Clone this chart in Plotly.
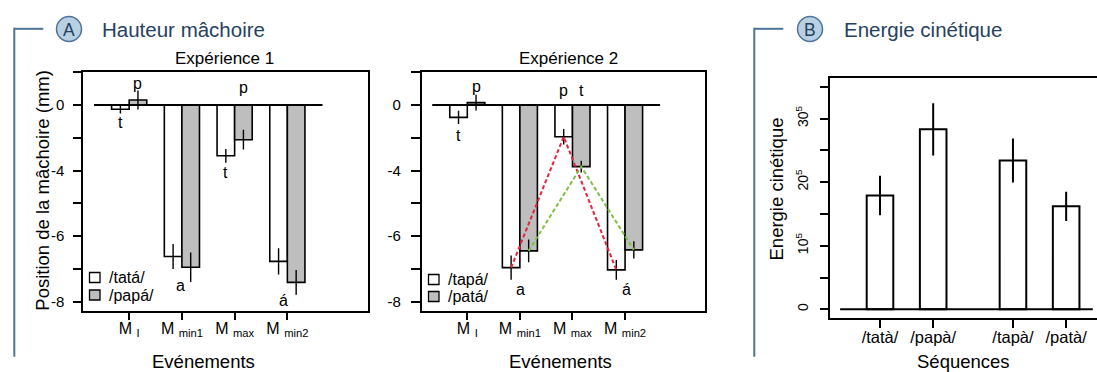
import plotly.graph_objects as go

W, H = 1097, 372
FONT = "Liberation Sans, Arial, Helvetica, sans-serif"

# ---------------- data ----------------
events = ["M <sub>I</sub>", "M <sub>min1</sub>", "M <sub>max</sub>", "M <sub>min2</sub>"]

exp1_names = ["/tatá/", "/papá/"]
exp1_tata = [-0.13, -4.62, -1.55, -4.77]
exp1_tata_err = [0.13, 0.38, 0.21, 0.40]
exp1_papa = [0.15, -4.95, -1.06, -5.41]
exp1_papa_err = [0.29, 0.45, 0.30, 0.38]

exp2_names = ["/tapá/", "/patá/"]
exp2_tapa = [-0.38, -4.96, -0.97, -5.03]
exp2_tapa_err = [0.20, 0.37, 0.24, 0.30]
exp2_pata = [0.07, -4.45, -1.88, -4.42]
exp2_pata_err = [0.24, 0.35, 0.18, 0.26]

jaw_tickvals = [0, -2, -4, -6]
jaw_ticktext = ["0", "-4", "-6", "-8"]
jaw_minor_ticks = [1, -1, -3, -5]

sequences = ["/tatà/", "/papà/", "/tapà/", "/patà/"]
energy = [17.9, 28.3, 23.4, 16.2]
energy_err = [3.1, 4.1, 3.45, 2.3]
energy_tickvals = [0, 10, 20, 30]
energy_ticktext = ["0", "10<sup>5</sup>", "20<sup>5</sup>", "30<sup>5</sup>"]
energy_minor_ticks = [5, 15, 25, 35]

# phoneme letters written on panel A: (text, event index, side offset, y)
exp1_letters = [("t", 0, -1, -0.55), ("p", 0, 1, 0.64), ("a", 1, -0.2, -5.52),
                ("t", 2, -1, -2.07), ("p", 2, 1, 0.52), ("á", 3, -0.45, -5.95)]
exp2_letters = [("t", 0, -1, -0.92), ("p", 0, 1, 0.55), ("a", 1, 0.1, -5.64),
                ("p", 2, -1, 0.43), ("t", 2, 1, 0.43), ("á", 3, 0.2, -5.64)]

WHITE = "#ffffff"
GREY = "#bebebe"
RED = "#e8233c"
GREEN = "#7cc142"
BLUE_LINE = "#4d7398"
BLUE_TEXT = "#26415f"
CIRCLE_FILL = "#b9d0e3"


def px(x):
    return x / W


def py(y):
    return 1 - y / H


grp = [i + 1 for i in range(len(events))]
half = 1 / 6
bw = 1 / 3

fig = go.Figure()


def add_bars(vals, errs, name, color, off, xa, ya):
    fig.add_trace(go.Bar(
        x=[g + off for g in grp], y=vals, width=bw, name=name,
        marker=dict(color=color, line=dict(color="black", width=1.6)),
        error_y=dict(type="data", array=errs, width=0, thickness=1.4, color="black"),
        xaxis=xa, yaxis=ya, showlegend=False))


add_bars(exp1_tata, exp1_tata_err, exp1_names[0], WHITE, -half, "x", "y")
add_bars(exp1_papa, exp1_papa_err, exp1_names[1], GREY, half, "x", "y")
add_bars(exp2_tapa, exp2_tapa_err, exp2_names[0], WHITE, -half, "x2", "y2")
add_bars(exp2_pata, exp2_pata_err, exp2_names[1], GREY, half, "x2", "y2")

# dashed trajectories in experiment 2 (Mmin1 -> Mmax -> Mmin2)
fig.add_trace(go.Scatter(x=[g - half for g in grp[1:]], y=exp2_tapa[1:], mode="lines",
                         line=dict(color=RED, width=2, dash="4px,2.5px"),
                         xaxis="x2", yaxis="y2", showlegend=False, hoverinfo="skip"))
fig.add_trace(go.Scatter(x=[g + half for g in grp[1:]], y=exp2_pata[1:], mode="lines",
                         line=dict(color=GREEN, width=2, dash="4px,2.5px"),
                         xaxis="x2", yaxis="y2", showlegend=False, hoverinfo="skip"))

# panel B bars: two pairs separated by an extra gap
seq_pos = [2 * i + (1 if i >= 2 else 0) for i in range(len(sequences))]
fig.add_trace(go.Bar(
    x=seq_pos, y=energy, width=1, name="Energie",
    marker=dict(color=WHITE, line=dict(color="black", width=2)),
    error_y=dict(type="data", array=energy_err, width=0, thickness=2, color="black"),
    xaxis="x3", yaxis="y3", showlegend=False))

axis_common = dict(showline=True, linecolor="black", linewidth=1.8, showgrid=False,
                   zeroline=False, ticks="outside", tickcolor="black", tickwidth=1.6,
                   fixedrange=True)


def minor(vals, length):
    return dict(tickmode="array", tickvals=vals, ticks="outside", ticklen=length,
                tickwidth=1.6, tickcolor="black", showgrid=False)


ytop_A, ybot_A = 71.5, 310.7
fig.update_layout(
    width=W, height=H, margin=dict(l=0, r=0, t=0, b=0),
    paper_bgcolor="white", plot_bgcolor="white",
    font=dict(family=FONT, color="black"),
    showlegend=False, barmode="overlay",
    xaxis=dict(domain=[px(83.3), px(368.3)], range=[0.13, 5.535], anchor="y",
               tickvals=grp, ticktext=events, ticklen=7, mirror=True,
               tickfont=dict(size=16), ticklabelstandoff=-5, **axis_common),
    yaxis=dict(domain=[py(ybot_A), py(ytop_A)], range=[-6.275, 1.02], anchor="x",
               tickvals=jaw_tickvals, ticktext=jaw_ticktext, ticklen=8, mirror=True,
               minor=minor(jaw_minor_ticks, 8),
               tickfont=dict(size=15), ticklabelstandoff=6, **axis_common),
    xaxis2=dict(domain=[px(421.7), px(705)], range=[0.133, 5.52], anchor="y2",
                tickvals=grp, ticktext=events, ticklen=7, mirror=True,
                tickfont=dict(size=16), ticklabelstandoff=-5, **axis_common),
    yaxis2=dict(domain=[py(ybot_A), py(ytop_A)], range=[-6.275, 1.02], anchor="x2",
                tickvals=jaw_tickvals, ticktext=jaw_ticktext, ticklen=9, mirror=True,
                minor=minor(jaw_minor_ticks, 9),
                tickfont=dict(size=15), ticklabelstandoff=7, **axis_common),
    xaxis3=dict(domain=[px(830), 1.0], range=[-1.88, 8.16], anchor="y3",
                tickvals=seq_pos, ticktext=sequences, ticklen=8, mirror=True,
                tickfont=dict(size=16.5), ticklabelstandoff=-5, **axis_common),
    yaxis3=dict(domain=[py(318), py(78.3)], range=[-1.37, 36.33], anchor="x3",
                tickvals=energy_tickvals, ticktext=energy_ticktext, ticklen=8,
                mirror=False, tickangle=-90, minor=minor(energy_minor_ticks, 8),
                tickfont=dict(size=14), ticklabelstandoff=7, **axis_common),
)

shapes = []
annotations = []

# zero baselines
for xr, yr in (("x", "y"), ("x2", "y2")):
    shapes.append(dict(type="line", xref=xr, yref=yr, x0=grp[0] - 2 / 3, x1=grp[-1] + 2 / 3,
                       y0=0, y1=0, line=dict(color="black", width=2)))
shapes.append(dict(type="line", xref="x3", yref="y3", x0=seq_pos[0] - 1.5, x1=seq_pos[-1] + 1.0,
                   y0=0, y1=0, line=dict(color="black", width=2)))

# letters
for letters, xr, yr in ((exp1_letters, "x", "y"), (exp2_letters, "x2", "y2")):
    for txt, gi, side, yv in letters:
        annotations.append(dict(text=txt, x=grp[gi] + side * half, y=yv, xref=xr, yref=yr,
                                showarrow=False, font=dict(size=16, family=FONT),
                                xanchor="center", yanchor="middle"))

# manual legends
for names, left, rows in ((exp1_names, 89.5, (272.5, 290.0)), (exp2_names, 428.5, (274.5, 291.5))):
    for name, fill, top in zip(names, (WHITE, GREY), rows):
        shapes.append(dict(type="rect", xref="paper", yref="paper",
                           x0=px(left), x1=px(left + 10.5), y0=py(top + 10), y1=py(top),
                           fillcolor=fill, line=dict(color="black", width=1.3)))
        annotations.append(dict(text=name, x=px(left + 17), y=py(top + 5), xref="paper",
                                yref="paper", showarrow=False, xanchor="left",
                                yanchor="middle", font=dict(size=16, family=FONT)))


def ann(text, x, y, size, xa="center", ya="middle", angle=0, color="black"):
    annotations.append(dict(text=text, x=px(x), y=py(y), xref="paper", yref="paper",
                            showarrow=False, xanchor=xa, yanchor=ya, textangle=angle,
                            font=dict(size=size, family=FONT, color=color)))


ann("Expérience 1", 224, 59, 17)
ann("Expérience 2", 568.3, 59, 17)
ann("Evénements", 203.3, 361, 18.5)
ann("Evénements", 560.8, 361, 18.5)
ann("Séquences", 963, 361, 18.5)
ann("Position de la mâchoire (mm)", 41.7, 190, 18.5, angle=-90)
ann("Energie cinétique", 775.5, 189, 18.5, angle=-90)

# panel headers with brackets and circled letters
for bx, cx, label, title, tx in ((14.3, 69, "A", "Hauteur mâchoire", 100),
                                  (754.3, 810, "B", "Energie cinétique", 841.7)):
    shapes.append(dict(type="line", xref="paper", yref="paper", x0=px(bx), x1=px(bx + 29),
                       y0=py(28.8), y1=py(28.8), line=dict(color=BLUE_LINE, width=2)))
    shapes.append(dict(type="line", xref="paper", yref="paper", x0=px(bx), x1=px(bx),
                       y0=py(27.8), y1=py(356.7), line=dict(color=BLUE_LINE, width=2)))
    r = 12.5
    shapes.append(dict(type="circle", xref="paper", yref="paper",
                       x0=px(cx - r), x1=px(cx + r), y0=py(29 + r), y1=py(29 - r),
                       fillcolor=CIRCLE_FILL, line=dict(color=BLUE_LINE, width=1.5)))
    ann(label, cx, 29.5, 17.5, color=BLUE_TEXT)
    ann(title, tx, 29.5, 20.5, xa="left", color=BLUE_TEXT)

fig.update_layout(shapes=shapes, annotations=annotations)
fig.write_html("out.html", config={"displayModeBar": False},
               post_script="document.body.style.margin='0';document.body.style.overflow='hidden';")
